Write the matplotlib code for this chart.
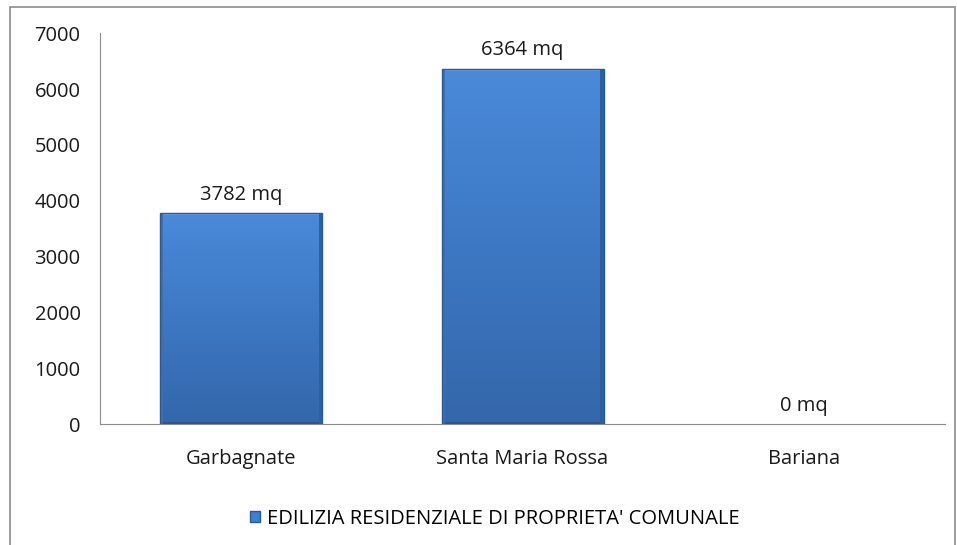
import matplotlib.pyplot as plt
import matplotlib.patches as mpatches
from matplotlib.colors import LinearSegmentedColormap
import numpy as np

plt.rcParams['font.family'] = ['Open Sans', 'DejaVu Sans']

categories = ['Garbagnate', 'Santa Maria Rossa', 'Bariana']
values = [3782, 6364, 0]
value_labels = ['3782 mq', '6364 mq', '0 mq']
series_name = "EDILIZIA RESIDENZIALE DI PROPRIETA' COMUNALE"
y_ticks = [0, 1000, 2000, 3000, 4000, 5000, 6000, 7000]

fig = plt.figure(figsize=(9.57, 5.45), dpi=100)
ax = fig.add_axes([0.1045, 0.222, 0.883, 0.717])

# outer frame of the chart area
frame = mpatches.Rectangle((10 / 957, -0.1), 945 / 957, 1 - 7 / 545 + 0.1,
                           transform=fig.transFigure, fill=False,
                           edgecolor='#8c8c8c', linewidth=1.2)
fig.patches.append(frame)

x = np.arange(len(categories))
bars = ax.bar(x, values, width=0.575, color='#3f7fcf',
              edgecolor='none', linewidth=0, zorder=2)

# vertical gradient inside each bar
grad = LinearSegmentedColormap.from_list('g', ['#4a8ad8', '#3d78c4', '#3467aa'])
for b in bars:
    h = b.get_height()
    if h <= 0:
        continue
    x0 = b.get_x()
    w = b.get_width()
    img = ax.imshow(np.linspace(0, 1, 256).reshape(-1, 1), cmap=grad,
                    aspect='auto', extent=(x0, x0 + w, 0, h),
                    origin='upper', zorder=2.5)
    img.set_clip_path(b)
    # bevel highlight / shade
    ax.add_patch(mpatches.Rectangle((x0, h - 45), w, 45,
                                    color='#6ea3e4', zorder=3, linewidth=0))
    ax.add_patch(mpatches.Rectangle((x0, 0), w, 40,
                                    color='#2b5590', zorder=3, linewidth=0))
    ax.add_patch(mpatches.Rectangle((x0, 0), w * 0.02, h,
                                    color='#3a70b8', zorder=3, linewidth=0))
    ax.add_patch(mpatches.Rectangle((x0 + w * 0.98, 0), w * 0.02, h,
                                    color='#2e5f9e', zorder=3, linewidth=0))
    ax.add_patch(mpatches.Rectangle((x0, 0), w, h, fill=False,
                                    edgecolor='#2a5a94', linewidth=1.0, zorder=3.5))

for xi, v, lab in zip(x, values, value_labels):
    ax.text(xi, v + 150, lab, ha='center', va='bottom', fontsize=14.5, color='#1a1a1a')

ax.set_xlim(-0.5, len(categories) - 0.5)
ax.set_ylim(0, 7000)
ax.set_yticks(y_ticks)
ax.set_xticks(x)
ax.set_xticklabels(categories)
ax.tick_params(axis='both', length=0, labelsize=14.5, colors='#1a1a1a')
ax.tick_params(axis='y', pad=14)
ax.tick_params(axis='x', pad=18)

for s in ['top', 'right']:
    ax.spines[s].set_visible(False)
ax.spines['left'].set_color('#8c8c8c')
ax.spines['bottom'].set_color('#8c8c8c')

handle = mpatches.Patch(facecolor='#3f7fcf', edgecolor='#2a5a94', label=series_name)
fig.legend(handles=[handle], loc='center', bbox_to_anchor=(0.517, 0.048),
           frameon=False, fontsize=14.5, handlelength=0.5, handleheight=0.5,
           handletextpad=0.35)

fig.savefig('out.png', dpi=100)
